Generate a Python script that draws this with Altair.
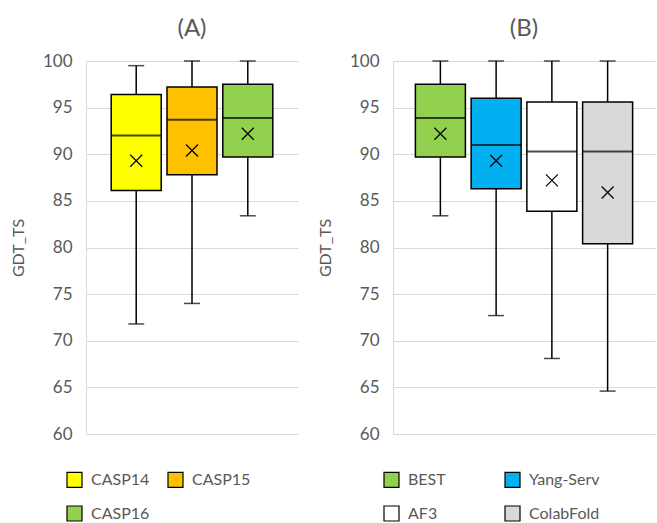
import altair as alt
import pandas as pd

# Panel A: CASP rounds
groups_a = ["CASP14", "CASP15", "CASP16"]
colors_a = ["#FFFF00", "#FFC000", "#92D050"]
low_a = [71.8, 74.0, 83.4]
q1_a = [86.1, 87.8, 89.7]
median_a = [92.0, 93.7, 93.9]
q3_a = [96.4, 97.2, 97.5]
high_a = [99.5, 100.0, 100.0]
mean_a = [89.3, 90.4, 92.2]

# Panel B: methods
groups_b = ["BEST", "Yang-Serv", "AF3", "ColabFold"]
colors_b = ["#92D050", "#00B0F0", "#FFFFFF", "#D9D9D9"]
low_b = [83.4, 72.7, 68.1, 64.6]
q1_b = [89.7, 86.3, 83.9, 80.4]
median_b = [93.9, 91.0, 90.3, 90.3]
q3_b = [97.5, 96.0, 95.6, 95.6]
high_b = [100.0, 100.0, 100.0, 100.0]
mean_b = [92.2, 89.3, 87.2, 85.9]

y_ticks = list(range(60, 101, 5))
TEXT = "#595959"
FONT = "Lato"


def panel(title, groups, colors, low, q1, med, q3, high, mean,
          width, pad_outer, legend_x, col_pad):
    df = pd.DataFrame({
        "group": groups, "low": low, "q1": q1, "median": med,
        "q3": q3, "high": high, "mean": mean,
    })
    base = alt.Chart(df)
    x = alt.X("group:N", sort=groups, axis=None,
              scale=alt.Scale(paddingInner=0.1, paddingOuter=pad_outer))
    y_scale = alt.Scale(domain=[60, 100], nice=False, zero=False)

    whisker = base.mark_rule(color="black", strokeWidth=1.5).encode(
        x=x,
        y=alt.Y("low:Q", scale=y_scale,
                axis=alt.Axis(values=y_ticks, title="GDT_TS", ticks=False,
                              labelPadding=14, titlePadding=16,
                              domainColor="#D9D9D9", gridColor="#D9D9D9")),
        y2="high:Q",
    )
    box = base.mark_bar(size=50, stroke="black", strokeWidth=1.5).encode(
        x=x, y="q1:Q", y2="q3:Q",
        color=alt.Color(
            "group:N",
            scale=alt.Scale(domain=groups, range=colors),
            legend=alt.Legend(
                title=None, orient="none", legendX=legend_x, legendY=410,
                direction="horizontal", columns=2, symbolType="square",
                symbolSize=225, symbolStrokeColor="black",
                symbolStrokeWidth=1.2, symbolOpacity=1, labelFontSize=16,
                labelFont=FONT, labelColor=TEXT, rowPadding=13,
                columnPadding=col_pad, gridAlign="all", labelOffset=8,
                padding=0,
            ),
        ),
    )
    median_line = base.mark_tick(size=50, thickness=2, color="black").encode(
        x=x, y="median:Q")
    cap_low = base.mark_tick(size=16, thickness=1.5, color="black").encode(
        x=x, y="low:Q")
    cap_high = base.mark_tick(size=16, thickness=1.5, color="black").encode(
        x=x, y="high:Q")
    mean_mark = base.mark_point(
        shape="M-1,-1L1,1M-1,1L1,-1", size=144, filled=False,
        stroke="black", strokeWidth=1.2, opacity=1,
    ).encode(x=x, y="mean:Q")

    return alt.layer(whisker, box, median_line, cap_low, cap_high, mean_mark).properties(
        width=width, height=373,
        title=alt.TitleParams(title, fontSize=24, font=FONT, color=TEXT,
                              fontWeight="normal", anchor="middle", offset=11),
    )


left = panel("(A)", groups_a, colors_a, low_a, q1_a, median_a, q3_a, high_a,
             mean_a, 212, 0.45, -20, 15)
right = panel("(B)", groups_b, colors_b, low_b, q1_b, median_b, q3_b, high_b,
              mean_b, 262, 0.4, -10, 23)

chart = alt.hconcat(left, right, spacing=19).resolve_scale(
    color="independent", x="independent", y="independent"
).properties(
    padding={"left": 10, "top": 17, "right": 2, "bottom": 5},
    background="white",
).configure_view(stroke=None).configure_axis(
    labelFont=FONT, labelFontSize=17, labelColor=TEXT,
    titleFont=FONT, titleFontSize=16, titleColor=TEXT, titleFontWeight="normal",
)

chart.save("out.html", embed_options={"renderer": "svg", "actions": False})
